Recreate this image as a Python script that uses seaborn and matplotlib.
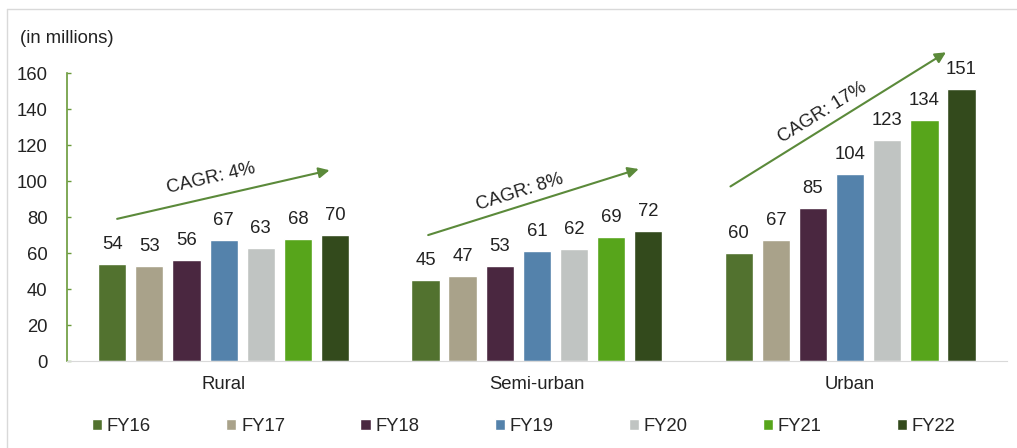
import numpy as np
import pandas as pd
import matplotlib.pyplot as plt
import seaborn as sns
from matplotlib.lines import Line2D

regions = ["Rural", "Semi-urban", "Urban"]
years = ["FY16", "FY17", "FY18", "FY19", "FY20", "FY21", "FY22"]
rural = [54, 53, 56, 67, 63, 68, 70]
semi_urban = [45, 47, 53, 61, 62, 69, 72]
urban = [60, 67, 85, 104, 123, 134, 151]
cagr = ["CAGR: 4%", "CAGR: 8%", "CAGR: 17%"]
colors = ["#52722f", "#a9a28a", "#4a2740", "#5482ab", "#c0c4c2", "#57a51b", "#334a1c"]

rows = []
for reg, vals in zip(regions, [rural, semi_urban, urban]):
    for yr, v in zip(years, vals):
        rows.append({"region": reg, "year": yr, "value": v})
df = pd.DataFrame(rows)

sns.set_style("white")
plt.rcParams["font.family"] = ["Liberation Sans", "DejaVu Sans"]
fs = 13.3
txt = "#222222"

fig = plt.figure(figsize=(10.17, 4.48), dpi=100)
ax = fig.add_axes([0.0659, 0.194, 0.924, 0.643])

sns.barplot(data=df, x="region", y="value", hue="year", palette=colors,
            width=0.83, gap=0.24, saturation=1, ax=ax, legend=True)

for cont in ax.containers:
    ax.bar_label(cont, padding=8, fontsize=fs, color=txt)

ax.set_ylim(0, 160)
ax.set_xlim(-0.5, 2.5)
ax.set_yticks(np.arange(0, 161, 20))
ax.set_xlabel("")
ax.set_ylabel("")
ax.tick_params(axis="y", left=True, direction="in", length=3, width=1, color="#6a9a3a",
               labelsize=fs, labelcolor=txt, pad=14)
ax.tick_params(axis="x", length=0, labelsize=fs, labelcolor=txt, pad=11)
for s in ["top", "right"]:
    ax.spines[s].set_visible(False)
ax.spines["left"].set_color("#6a9a3a")
ax.spines["left"].set_linewidth(1.2)
ax.spines["bottom"].set_color("#d9d9d9")

# CAGR arrows
green = "#5b8a3a"
arrows = [((-0.34, 79), (0.338, 106)),
          ((-0.347, 70), (0.325, 106.7)),
          ((-0.382, 97), (0.306, 171.5))]
text_pos = [(-0.04, 101.7, 13), (-0.054, 93.9, 17.4), (-0.09, 137.8, 31.8)]
for i in range(3):
    (x0, y0), (x1, y1) = arrows[i]
    ax.annotate("", xy=(i + x1, y1), xytext=(i + x0, y0),
                arrowprops=dict(arrowstyle="-|>", color=green, lw=1.5, mutation_scale=16,
                                shrinkA=0, shrinkB=0),
                annotation_clip=False)
    tx, ty, rot = text_pos[i]
    ax.text(i + tx, ty, cagr[i], rotation=rot, ha="center", va="center",
            fontsize=fs, color=txt, rotation_mode="anchor")

handles, labels = ax.get_legend_handles_labels()
ax.get_legend().remove()
fig.legend(handles, labels, loc="center", bbox_to_anchor=(0.515, 0.047), ncol=7,
           frameon=False, fontsize=fs, handlelength=0.55, handleheight=0.55,
           handletextpad=0.25, columnspacing=4.08)

fig.text(0.02, 0.915, "(in millions)", fontsize=fs, color=txt, va="center")

# frame border
fig.add_artist(Line2D([7 / 1017, 1], [1 - 9 / 448, 1 - 9 / 448], color="#d9d9d9", lw=1))
fig.add_artist(Line2D([7 / 1017, 7 / 1017], [0, 1 - 9 / 448], color="#d9d9d9", lw=1))

fig.savefig("out.png", dpi=100)
